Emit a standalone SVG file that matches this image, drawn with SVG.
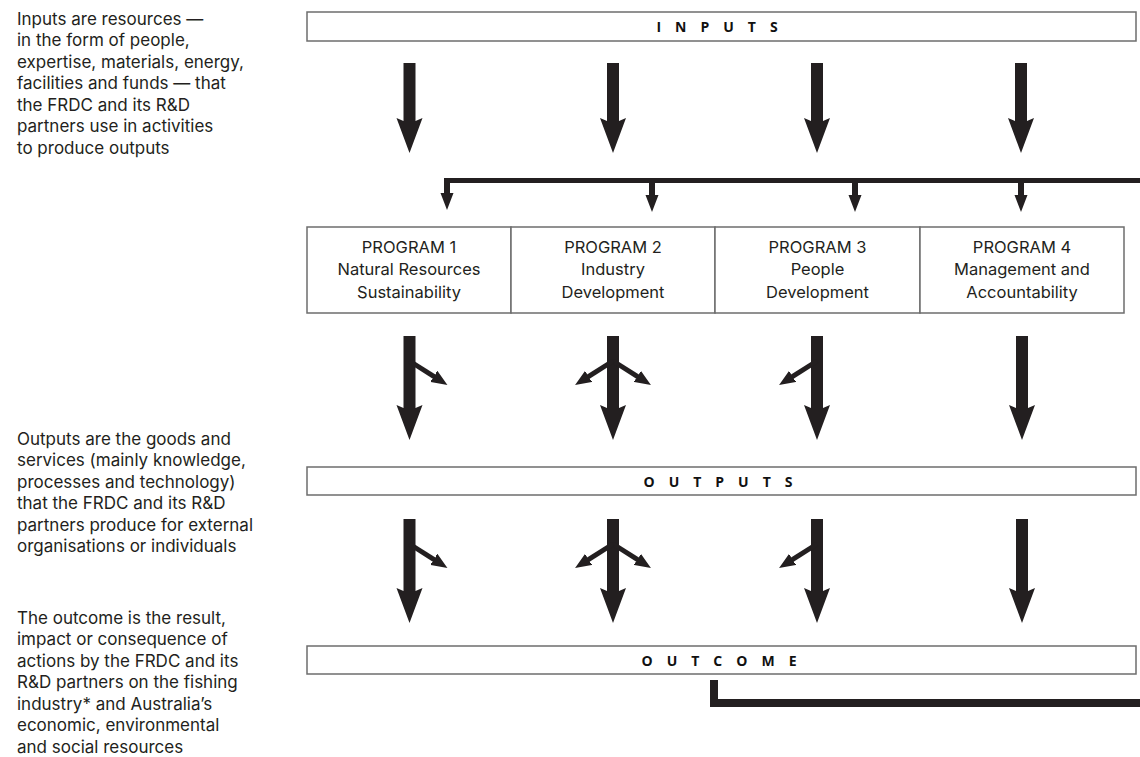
<svg xmlns="http://www.w3.org/2000/svg" width="1140" height="757" viewBox="0 0 1140 757">
<style>
.box{fill:#fff;stroke:#6d6d6d;stroke-width:1.5}
.note{font-family:Inter,"Open Sans",sans-serif;font-size:17px;fill:#231f20}
.prog{font-family:Inter,"Open Sans",sans-serif;font-size:16.5px;fill:#231f20;text-anchor:middle}
.head{font-family:"Open Sans","Noto Sans",sans-serif;font-size:14px;font-weight:bold;letter-spacing:14px;fill:#111;text-anchor:middle}
.arr{fill:#231f20}
.br{fill:none;stroke:#231f20;stroke-width:5}
.twig{fill:none;stroke:#231f20;stroke-width:5}
</style>
<defs>
<path id="bigIn" d="M-6,0 H6 V58 L13,55 L0,90 L-13,55 L-6,58 Z"/>
<path id="bigMid" d="M-6,0 H6 V72 L13,69 L0,104 L-13,69 L-6,72 Z"/>
<path id="small" d="M-3,0 H3 V15 H6.5 L0,32 L-6.5,15 H-3 Z"/>
<marker id="tw" markerUnits="userSpaceOnUse" markerWidth="20" markerHeight="20" refX="0" refY="0" viewBox="-4 -8 20 16" orient="auto">
<path d="M-3,0 L-5,-7 L12,0 L-5,7 Z" fill="#231f20"/>
</marker>
</defs>

<g id="notes">
<text class="note"><tspan x="17" y="24.5">Inputs are resources —</tspan><tspan x="17" y="46">in the form of people,</tspan><tspan x="17" y="67.5">expertise, materials, energy,</tspan><tspan x="17" y="89">facilities and funds — that</tspan><tspan x="17" y="110.5">the FRDC and its R&amp;D</tspan><tspan x="17" y="132">partners use in activities</tspan><tspan x="17" y="153.5">to produce outputs</tspan></text>

<text class="note"><tspan x="17" y="444.5">Outputs are the goods and</tspan><tspan x="17" y="466">services (mainly knowledge,</tspan><tspan x="17" y="487.5">processes and technology)</tspan><tspan x="17" y="509">that the FRDC and its R&amp;D</tspan><tspan x="17" y="530.5">partners produce for external</tspan><tspan x="17" y="552">organisations or individuals</tspan></text>

<text class="note"><tspan x="17" y="623.5">The outcome is the result,</tspan><tspan x="17" y="645">impact or consequence of</tspan><tspan x="17" y="666.5">actions by the FRDC and its</tspan><tspan x="17" y="688">R&amp;D partners on the fishing</tspan><tspan x="17" y="709.5">industry* and Australia’s</tspan><tspan x="17" y="731">economic, environmental</tspan><tspan x="17" y="752.5">and social resources</tspan></text>
</g>

<g id="inputs">
<rect class="box" x="307" y="12" width="829" height="29"/>
<text class="head" x="724" y="31.5">INPUTS</text>
</g>

<g id="program1">
<rect class="box" x="307" y="227" width="204" height="86"/>
<text class="prog"><tspan x="409" y="252.5">PROGRAM 1</tspan><tspan x="409" y="275">Natural Resources</tspan><tspan x="409" y="297.5">Sustainability</tspan></text>
</g>
<g id="program2">
<rect class="box" x="511" y="227" width="204" height="86"/>
<text class="prog"><tspan x="613" y="252.5">PROGRAM 2</tspan><tspan x="613" y="275">Industry</tspan><tspan x="613" y="297.5">Development</tspan></text>
</g>
<g id="program3">
<rect class="box" x="715" y="227" width="205" height="86"/>
<text class="prog"><tspan x="817.5" y="252.5">PROGRAM 3</tspan><tspan x="817.5" y="275">People</tspan><tspan x="817.5" y="297.5">Development</tspan></text>
</g>
<g id="program4">
<rect class="box" x="920" y="227" width="204" height="86"/>
<text class="prog"><tspan x="1022" y="252.5">PROGRAM 4</tspan><tspan x="1022" y="275">Management and</tspan><tspan x="1022" y="297.5">Accountability</tspan></text>
</g>

<g id="outputs">
<rect class="box" x="307" y="467" width="829" height="28"/>
<text class="head" x="725" y="486.5">OUTPUTS</text>
</g>

<g id="outcome">
<rect class="box" x="307" y="646" width="829" height="28"/>
<text class="head" x="726" y="665.5">OUTCOME</text>
</g>

<g id="connectors">
<use href="#bigIn" class="arr" x="409.5" y="63"/>
<use href="#bigIn" class="arr" x="613" y="63"/>
<use href="#bigIn" class="arr" x="817" y="63"/>
<use href="#bigIn" class="arr" x="1021" y="63"/>

<path class="br" d="M446.5,180.5 H1140"/>
<path class="br" d="M446.5,178 V183"/>
<use href="#small" class="arr" x="447" y="178"/>
<use href="#small" class="arr" x="652" y="180"/>
<use href="#small" class="arr" x="855" y="180"/>
<use href="#small" class="arr" x="1021" y="180"/>

<use href="#bigMid" class="arr" x="409.5" y="336"/>
<use href="#bigMid" class="arr" x="613" y="336"/>
<use href="#bigMid" class="arr" x="817" y="336"/>
<use href="#bigMid" class="arr" x="1022" y="336"/>
<path class="twig" marker-end="url(#tw)" d="M409.5,361 L437.3,378.6"/>
<path class="twig" marker-end="url(#tw)" d="M613,361 L640.8,378.6"/>
<path class="twig" marker-end="url(#tw)" d="M613,361 L585.2,378.6"/>
<path class="twig" marker-end="url(#tw)" d="M817,361 L789.2,378.6"/>

<use href="#bigMid" class="arr" x="409.5" y="519"/>
<use href="#bigMid" class="arr" x="613" y="519"/>
<use href="#bigMid" class="arr" x="817" y="519"/>
<use href="#bigMid" class="arr" x="1022" y="519"/>
<path class="twig" marker-end="url(#tw)" d="M409.5,544 L437.3,561.6"/>
<path class="twig" marker-end="url(#tw)" d="M613,544 L640.8,561.6"/>
<path class="twig" marker-end="url(#tw)" d="M613,544 L585.2,561.6"/>
<path class="twig" marker-end="url(#tw)" d="M817,544 L789.2,561.6"/>

<path d="M714,680 V703 H1140" fill="none" stroke="#231f20" stroke-width="8" stroke-linejoin="miter"/>
</g>
</svg>
